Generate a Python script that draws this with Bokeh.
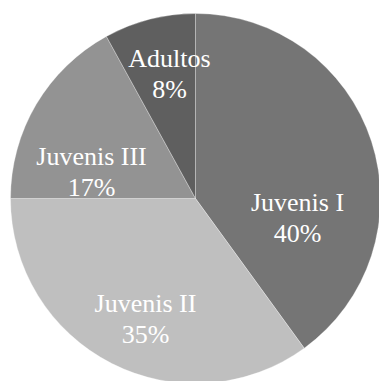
import math
from bokeh.plotting import figure
from bokeh.models import ColumnDataSource, Range1d
from bokeh.core.properties import value
from bokeh.embed import file_html
from bokeh.resources import INLINE

# Data
categories = ["Juvenis I", "Juvenis II", "Juvenis III", "Adultos"]
percents = [40, 35, 17, 8]
colors = ["#757575", "#bfbfbf", "#939393", "#5f5f5f"]

# Label layout (pixel-like data units, pie centre at 0,0)
label_x = [102, -50, -104, -26]
label_y = [-4, -105, 42, 140]
line_gap = 31
radius = 185

total = sum(percents)
starts, ends = [], []
cum = 0.0
for v in percents:
    a0 = math.pi / 2 - 2 * math.pi * cum / total
    cum += v
    a1 = math.pi / 2 - 2 * math.pi * cum / total
    starts.append(a1)
    ends.append(a0)

src = ColumnDataSource(dict(cat=categories, start=starts, end=ends, color=colors))

p = figure(width=379, height=381, output_backend="svg", toolbar_location=None,
           x_range=Range1d(-195, 184), y_range=Range1d(-183, 198),
           min_border=0, outline_line_color=None)
p.axis.visible = False
p.grid.visible = False
p.background_fill_color = "white"
p.border_fill_color = "white"

p.wedge(x=0, y=0, radius=radius, start_angle="start", end_angle="end",
        fill_color="color", line_color="white", line_width=0.6, line_alpha=0.5,
        source=src)

lsrc = ColumnDataSource(dict(x=label_x, y=label_y,
                             y2=[y - line_gap for y in label_y],
                             name=categories,
                             pct=[f"{v}%" for v in percents]))
p.text(x="x", y="y", text="name", source=lsrc, text_align="center",
       text_baseline="alphabetic", text_color="white",
       text_font=value("Liberation Serif"), text_font_size="26px")
p.text(x="x", y="y2", text="pct", source=lsrc, text_align="center",
       text_baseline="alphabetic", text_color="white",
       text_font=value("Liberation Serif"), text_font_size="26px")

open("out.html", "w").write(file_html(p, INLINE))
